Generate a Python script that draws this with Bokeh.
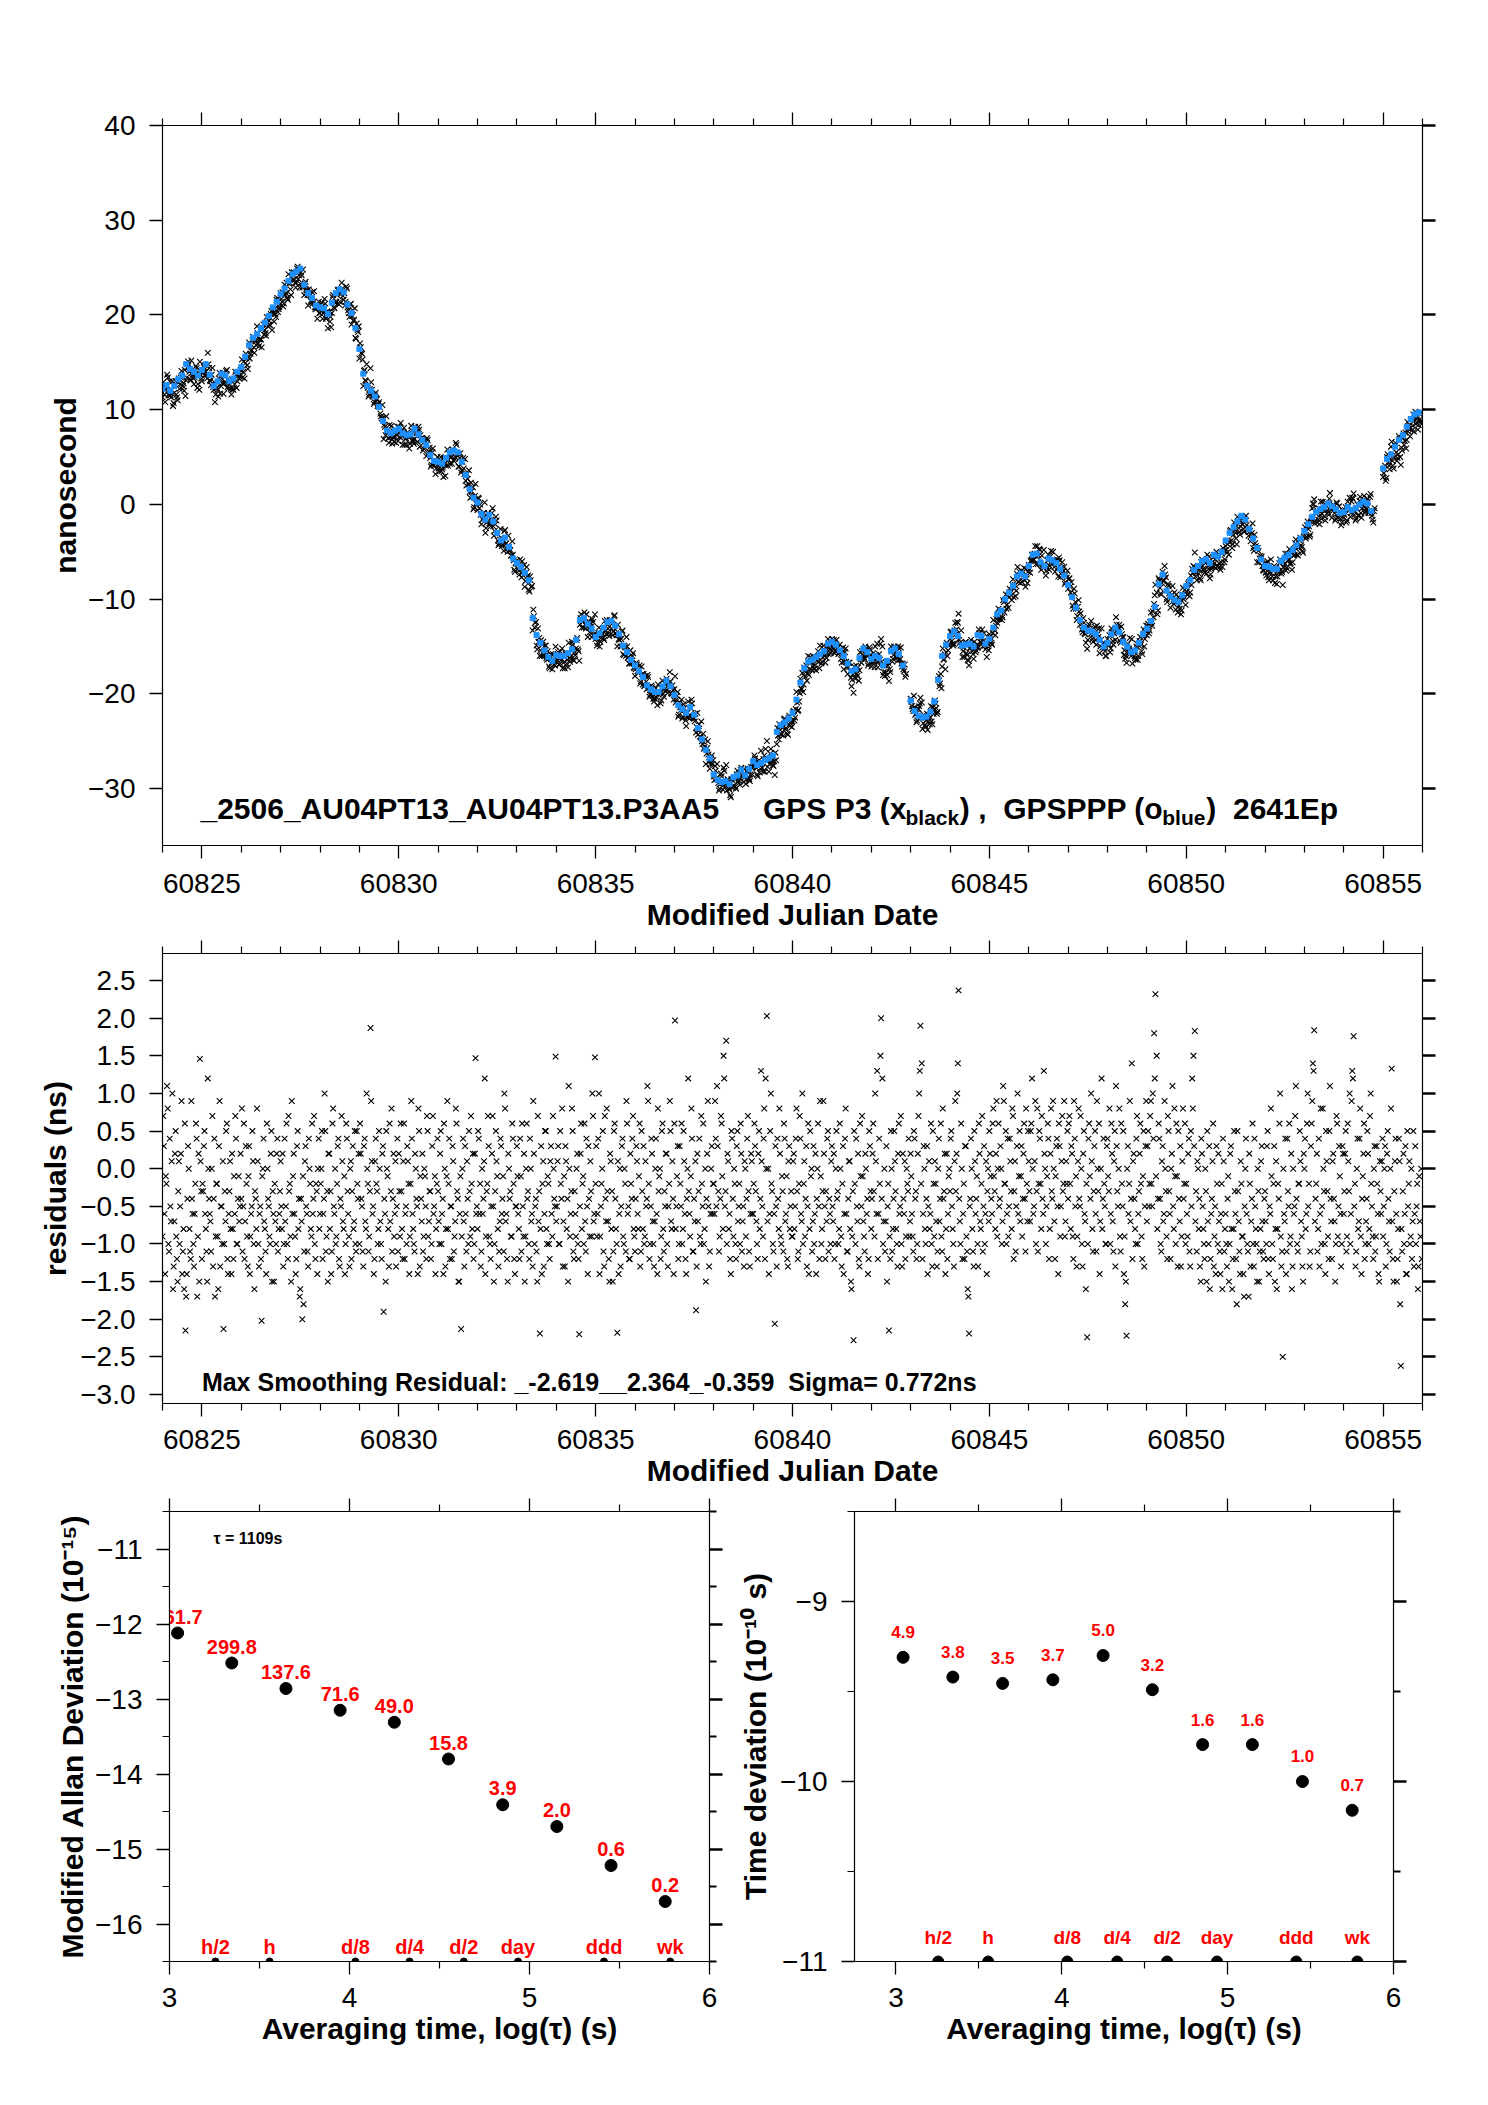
import math
from bokeh.plotting import figure
from bokeh.models import LinearAxis, FixedTicker, CustomJSTickFormatter, Range1d, Label, ColumnDataSource
from bokeh.layouts import column, row
from bokeh.embed import file_html
from bokeh.resources import INLINE
from bokeh.core.properties import value

FONT = "Liberation Sans"
nan = float("nan")

# ---------------- data ----------------
day_start = 60824
# GPSPPP (blue) clock offset, ns, 10 samples per day (0.0,0.1,...,0.9)
blue_ns_by_day = [
    [12.2, 12.6, 12.0, 12.5, 13.2, 13.6, 14.8, 14.3, 14.0, 13.6],
    [14.2, 14.8, 13.7, 12.5, 13.0, 13.8, 13.6, 13.0, 13.3, 14.0],
    [14.5, 15.6, 16.8, 17.6, 18.0, 18.6, 19.2, 19.9, 20.8, 21.4],
    [22.2, 22.8, 23.6, 24.3, 24.6, 24.9, 23.2, 22.3, 21.8, 21.0],
    [20.8, 20.7, 20.1, 21.3, 22.3, 22.7, 22.4, 21.1, 20.2, 18.6],
    [16.4, 13.8, 12.5, 12.0, 11.4, 10.3, 8.8, 7.8, 7.5, 7.8],
    [8.0, 7.5, 7.3, 7.4, 8.0, 7.4, 6.8, 6.3, 5.2, 4.6],
    [4.5, 4.3, 4.9, 5.5, 5.7, 5.5, 4.5, 3.1, 1.6, 0.7],
    [0.2, -1.0, -1.6, -1.1, -1.8, -3.0, -3.8, -3.5, -4.5, -5.7],
    [-6.2, -6.6, -7.2, -8.0, -12.0, -13.8, -14.6, -15.4, -16.1, -16.5],
    [-15.9, -16.0, -16.0, -15.7, -15.3, -14.3, -12.2, -12.0, -12.6, -13.1],
    [-14.0, -13.6, -13.0, -12.4, -12.3, -12.8, -13.7, -14.9, -15.6, -16.4],
    [-17.0, -17.6, -18.2, -19.1, -19.5, -19.8, -19.8, -19.2, -18.6, -19.2],
    [-20.1, -21.2, -21.6, -22.0, -21.4, -22.2, -23.6, -24.8, -25.9, -26.8],
    [-28.5, -29.1, -29.3, -29.2, -29.5, -28.8, -28.6, -28.0, -28.6, -27.9],
    [-27.1, -27.5, -27.3, -27.0, -26.8, -26.5, -24.0, -23.3, -23.0, -22.6],
    [-22.0, -20.6, -18.8, -17.3, -16.6, -16.4, -16.1, -15.8, -15.5, -14.7],
    [-14.5, -14.8, -15.4, -16.0, -16.8, -17.6, -17.4, -16.2, -15.2, -15.6],
    [-16.3, -16.0, -16.2, -17.0, -16.5, -15.5, -15.2, -15.8, -17.0, nan],
    [-20.7, -21.8, -22.3, -22.5, -22.4, -21.9, -20.8, -18.5, -16.0, -14.8],
    [-13.9, -13.4, -13.9, -14.9, -14.8, -14.7, -15.0, -13.8, -13.9, -14.7],
    [-14.2, -13.0, -11.6, -11.2, -10.0, -9.3, -8.6, -7.6, -7.3, -7.6],
    [-6.5, -5.3, -5.2, -6.1, -6.5, -5.7, -5.9, -6.2, -6.8, -7.5],
    [-8.5, -9.8, -10.9, -12.2, -13.0, -13.3, -13.4, -13.7, -14.3, -15.0],
    [-14.6, -13.7, -13.0, -13.5, -14.5, -15.0, -15.6, -15.4, -14.6, -13.7],
    [-13.1, -12.3, -10.8, -8.4, -7.4, -9.1, -9.7, -10.1, -10.3, -9.6],
    [-8.6, -8.0, -6.9, -6.5, -6.0, -5.8, -6.2, -5.3, -5.5, -5.0],
    [-3.8, -3.0, -2.4, -1.8, -1.2, -1.6, -2.6, -3.6, -4.6, -5.8],
    [-6.5, -6.6, -6.8, -6.8, -6.0, -5.6, -5.3, -4.8, -4.3, -3.6],
    [-2.8, -2.1, -1.3, -0.8, -0.5, -0.3, 0.1, -0.2, -0.5, -0.9],
    [-0.8, -0.3, -0.6, -0.4, 0.0, 0.3, 0.1, -0.7, nan, nan],
    [3.8, 4.8, 5.3, 6.1, 6.8, 7.3, 8.2, 9.0, 9.5, 9.7],
]

# smoothing residuals of GPS P3 (black), ns, two interleaved sets per day
residual_a_ns_by_day = [
    [.7, -.6, -.1, 1.1, -1.0, .4, -.7, 1.0, -1.3, .2, -.9, -1.5, .1, -.5, .9, -1.1, -1.6, -2.15, -1.4, .3, -.8, -1.2, -.4, -1.0, -.6, .6, -1.7, .2, 1.46, -.3],
    [-.2, .3, -.6, -1.1, 1.2, -.4, -.7, .0, -1.3, .4, -.9, -.2, -1.6, .9, -.5, -1.0, -2.13, -.3, .5, -1.2, -.6, .1, -1.4, -.8, -.1, .7, -1.0, -.4, -.7, .2],
    [.8, -.5, -1.2, .3, -.9, -.1, -1.4, -.6, .5, -1.0, -.3, -.8, .1, -1.3, -.5, -2.02, .0, -.7, -1.1, .6, -.4, -.9, .2, -1.5, -.6, -.2, -1.0, .4, -.8, -.3],
    [-.5, .2, -1.0, -.7, .6, -1.2, -.3, -.9, .9, -.1, -.6, -1.4, .3, -.8, -1.7, -.4, -2.0, -1.8, .1, -.5, -1.1, .4, -.2, -.9, -.6, .7, -1.2, -.3, .0, -.8],
    [-.2, .5, -.6, 1.0, -1.1, -.3, .2, -.8, -1.4, .6, -.5, .0, -.9, .3, -1.2, -.4, .7, -.7, -.1, -1.0, .4, -.6, -1.3, .1, -.3, -.8, .5, -1.1, -.2, .2],
    [.6, -.4, -1.1, .3, -.7, 1.0, -.2, -.9, 1.87, .1, -.5, -1.2, .4, -.3, -.8, .0, -1.0, .2, -1.9, -.6, .5, -.1, -1.3, -.7, .8, -.4, -.9, .1, -.5, -1.1],
    [-.3, .6, -.8, .1, -1.2, -.5, .3, -.2, -.9, .9, -.6, -1.0, .2, -.4, -1.4, .5, -.1, -.7, -1.1, .0, -.5, .7, -.9, -.3, -1.2, .3, -.6, -.1, -.8, .4],
    [-.7, .2, -1.0, -.4, .6, -1.3, -.1, -.8, .4, -.5, -1.2, .1, -.9, .8, -.3, -1.5, -.6, -2.13, .0, -.7, .3, -1.1, -.4, .5, -.9, -.2, .2, -1.0, 1.47, -.5],
    [.5, -.6, -1.3, .0, -.4, 1.2, -.9, -.2, .3, -1.0, -.5, .7, -1.5, -.3, .1, -.8, -1.1, .4, -.6, -.1, 1.0, -.7, -1.2, .2, -.4, -.9, .6, -.2, -1.4, -.5],
    [-.1, -.8, .4, -1.1, -.5, .2, -.9, .6, -.3, -1.2, .0, -.6, .9, -1.0, -.4, -1.5, -.7, -2.19, .3, -.2, -1.3, .5, -.8, -.1, -1.0, .1, -.6, .7, -.4, 1.49],
    [-.5, .3, -1.0, -.2, .8, -.7, -1.3, .1, -.4, 1.1, -.9, -.3, .5, -1.2, -.6, .0, -1.0, -2.2, .2, -.8, -.1, .6, -1.1, -.5, .3, -.9, -.3, 1.0, -.7, 1.48],
    [.3, -.6, 1.0, -.9, -.2, .5, -1.3, -.4, .8, -.7, -1.5, .1, -.3, -1.1, .6, -.8, -2.18, -1.4, .0, -.5, .4, -1.0, -.2, .9, -.6, -1.2, .2, -.4, .7, -.9],
    [-.4, .1, -.8, .6, -1.1, -.3, .3, -.9, -.5, 1.1, -.2, -1.0, .4, -.7, -1.3, .0, -.6, .8, -.1, -1.2, .5, -.8, -.3, .2, -1.0, -.5, .9, -.7, .1, -1.4],
    [1.97, -.5, .3, -1.0, -.2, .6, -.8, .1, -1.2, -.4, 1.2, -.6, -.1, .4, -1.1, -.7, -1.88, .2, -.3, -.9, .7, -.5, -1.0, .0, -.4, .9, -1.3, -.6, .3, -.2],
    [-.6, .4, 1.1, -.3, -.9, .7, -.1, 1.5, -.5, 1.7, .2, -.8, -1.2, .5, -.4, .0, -1.0, .3, -.7, -.2, .6, -1.1, -.5, .1, -.9, .4, -.3, -1.3, .2, -.6],
    [-.2, .3, -.7, -1.2, .5, -.4, .1, -.9, .8, 1.2, 2.03, .0, -.6, 1.0, -.3, -1.1, -2.06, -.5, .4, -.8, .2, -1.0, -.3, .6, -.7, -.1, -1.3, .3, -.5, -.9],
    [.1, -.8, .4, -.3, -1.1, .7, -.6, 1.0, -.2, -.9, .3, -.5, -1.4, .5, .0, -.7, -1.0, .2, -.4, .6, -1.2, -.1, -.8, .9, -.5, -.3, .4, -1.1, -.6, .1],
    [-.5, .2, -1.0, .5, -.3, -.8, .0, -1.3, .3, -.6, .8, -1.1, -.4, .1, -1.5, -.9, -2.28, -.2, .4, -.7, -1.2, .6, -.5, -.1, -.9, .2, -.6, -1.4, .5, -.3],
    [-.4, .6, -.9, .1, 1.3, -.6, -.2, 2.0, 1.2, -.7, -1.1, .3, -.5, -2.15, -1.2, .0, -.8, .5, -.3, -1.0, .2, -.6, .7, -1.3, -.4, .1, -.9, -.2, .4, -.7],
    [-.1, -.9, .5, -.4, -1.2, .2, 1.0, 1.9, 1.4, -.6, .0, -1.0, .3, -.5, -.8, .6, -1.3, -.2, .1, -.7, -1.1, .4, -.4, -.9, .8, -.3, -1.4, .2, -.6, .0],
    [.4, -.5, -1.0, .1, -.3, 1.0, 2.37, -.7, .6, -1.2, -.2, .3, -.9, -1.6, -2.19, -.4, .0, -1.1, .5, -.6, -.1, -1.3, .2, -.8, .7, -.5, -1.0, .1, -.3, -.7],
    [.2, -.4, .6, -.1, -.8, .9, .0, -.5, .3, -1.0, 1.1, -.2, .5, -.6, -.9, .4, -.3, .8, -1.2, .1, -.5, 1.0, -.1, -.7, .3, -.4, .6, -1.1, -.2, .5],
    [-.3, .5, 1.2, -.6, .1, -1.0, .8, -.2, .4, -.8, -.4, 1.3, .0, -.5, .6, -1.2, .2, -.3, .9, -.7, -.1, .4, -1.4, .3, -.5, .7, -.2, -.9, .1, .5],
    [.6, -.2, .3, -.9, .9, -.5, -1.3, .1, -.4, .7, -1.0, .2, -.6, -1.6, -2.24, .4, -.1, 1.0, -.8, -.3, .5, -1.1, .0, .6, -.7, 1.2, -.4, -.2, -1.0, .3],
    [-.1, .8, -.6, .2, -1.1, .5, 1.1, -.3, .0, -.9, .6, -.5, -1.4, -1.8, -2.22, .3, -.2, -.7, 1.4, .1, -.4, -1.0, .7, -.6, .2, -.2, -1.2, .5, -.5, .9],
    [.3, -.5, .7, -.2, 1.0, 1.8, 2.32, 1.5, -.4, .4, -1.0, .1, -.7, .9, -.3, -1.2, .5, -.6, .0, 1.1, -.8, -.1, .6, -1.3, -.4, .3, -.9, .8, -.2, -1.0],
    [-.6, .2, -1.1, .5, 1.2, 1.5, 1.83, -.3, .1, -.8, -1.3, .4, -.5, -1.0, .0, -1.5, -.7, .3, -1.2, -.4, .6, -.9, -1.4, -.2, .2, -1.1, -.6, -1.6, .1, -.8],
    [-1.0, -.4, -1.5, .2, -.8, -1.2, .5, -.6, -1.8, -.3, -1.1, .1, -.9, -1.4, -.5, .4, -1.0, -1.7, -.2, -.7, .6, -1.3, -.5, -1.0, .0, -1.5, -.8, .3, -1.1, -.4],
    [-.7, .3, -1.2, -.5, .8, -1.0, -.2, -1.5, .1, -.8, -.4, 1.0, -1.3, -2.5, -.6, .4, -1.1, -.3, .6, -.9, -1.6, .0, -.5, 1.1, -1.0, -.2, .5, -.7, -1.3, .2],
    [.4, -.6, 1.0, -.2, -1.1, .6, 1.4, 1.84, -.4, .2, -.8, -1.3, .8, -.5, .0, -1.0, .5, -.3, -1.2, 1.1, -.7, .1, -.4, -1.5, .7, -.9, .3, -.6, -1.0, .2],
    [-.3, .5, -.9, .1, 1.0, -.6, 1.3, 1.76, -.2, -1.1, .4, -.7, .8, -1.4, -.1, .6, -1.0, -.4, .2, -.8, 1.0, -.5, -1.2, .3, -.9, -.2, -1.4, .1, -.6, .4],
    [-.5, .3, -1.0, .5, -.7, .0, 1.33, -1.2, -.3, .4, -1.5, -.8, .1, -2.62, -1.1, .2, -.6, -1.4, .5, -.2, -1.0, .0, -.7, -1.3, .3, -.5, -1.6, -.1, -.9, -1.2],
]
residual_b_ns_by_day = [
    [-.9, .3, -1.4, -.2, .8, -1.1, -.5, .1, -1.6, -.7, .5, -1.2, -.3, -1.0, .2, -1.4, -.8, .6, -1.7, -.4, .0, -1.1, .9, -.6, -1.3, -.2, .4, -.9, -1.5, .1],
    [-1.2, -.3, .5, -.8, -1.5, .0, -.6, -1.1, .7, -.4, -1.7, -.2, -.9, .3, -1.3, -.5, .1, -1.0, -.7, .6, -1.4, -.3, -.8, .2, -1.2, -.6, .4, -1.0, -.1, -.5],
    [-.4, -1.1, .6, -.7, -.2, -1.3, .3, -.9, -.5, .1, -1.6, -.4, .8, -1.0, -.6, -1.2, -.1, .4, -.8, -1.4, .0, -.5, -1.0, .5, -.3, -1.5, -.7, .2, -1.1, -.6],
    [.1, -.8, -1.3, .4, -.5, -1.0, .7, -.2, -1.5, -.6, .2, -.9, -1.2, .5, -.4, -1.6, -.7, -.1, -1.1, .3, -.6, -1.3, .0, -.8, .6, -.4, -1.0, -.2, -1.4, .4],
    [-.6, .0, -1.2, -.4, .5, -.9, -1.5, .2, -.3, -1.1, .8, -.6, -1.0, -.2, .4, -1.3, -.5, .1, -.8, -1.4, .6, -.3, -.9, .0, -1.2, .3, -.7, -1.0, .5, -.4],
    [-1.0, .2, -.5, -1.3, .4, -.8, .0, -1.1, -.3, .9, -.6, -1.4, .1, -.2, -1.0, .5, -.7, -1.2, .3, -.4, -1.5, .0, -.8, .6, -.3, -1.1, .2, -.6, -1.3, .4],
    [.2, -.9, -.3, -1.2, .6, -.6, -1.0, .1, -1.4, -.2, .4, -.8, -1.1, .0, -.5, .8, -1.3, -.4, .2, -.9, -.1, -1.2, .5, -.7, -.3, -1.0, .7, -.5, -1.4, -.2],
    [-.3, -1.0, .5, -.6, -1.4, .0, -.8, .9, -.2, -1.2, -.5, .3, -1.1, -.7, .6, -.4, -1.5, -.1, -.9, .4, -1.3, -.6, .1, -1.0, -.3, .7, -.8, -1.2, .2, -.6],
    [-.8, .4, -.2, -1.1, -.6, .1, -1.4, -.3, .7, -.9, -1.2, .2, -.5, -1.0, .5, -.1, -1.3, -.7, .3, -.4, -1.1, .8, -.6, -1.5, .0, -.3, -.9, .4, -1.2, -.5],
    [.3, -.6, -1.2, -.1, .6, -.9, -1.5, .0, -.4, -1.0, .4, -.7, -1.3, .2, -.5, -1.1, .7, -.3, -.8, -1.4, .1, -.6, .5, -1.0, -.2, -1.2, .3, -.9, .0, -.5],
    [-.7, .1, -1.0, .5, -.4, -1.3, -.1, .3, -.8, -1.5, .0, -.6, .8, -1.1, -.3, -.9, .2, -1.2, -.5, .6, -.2, -1.0, -.7, .4, -1.4, -.4, .1, -.9, .7, -.6],
    [-.2, -.9, .4, -1.4, -.5, .0, -1.1, .7, -.7, -.3, -1.2, .2, -.8, -1.5, .5, -.4, -1.0, .1, -.6, -1.3, .3, -.9, .0, -1.1, .6, -.5, -1.2, -.2, .4, -.8],
    [-1.1, .3, -.6, -.1, -1.3, .5, -.8, -1.0, .1, -.4, .9, -1.2, -.5, .2, -1.0, -.7, .4, -1.4, -.3, .0, -.9, .6, -1.1, -.5, .2, -1.3, -.2, .5, -.8, -.4],
    [.6, -.8, -.1, -1.2, .3, -.5, -1.0, .5, -.6, -1.4, .0, -.3, -.9, .8, -1.1, -.4, .1, -1.3, -.7, .4, -1.0, -.2, .6, -.8, -1.5, .2, -.5, -1.1, .0, -.6],
    [-.2, .9, -.5, .3, -1.1, -.4, .6, -.8, 1.2, -.3, -1.0, .1, -.6, -1.4, .4, -.9, -.2, -1.2, .5, -.5, -1.0, .2, -.7, -1.3, .0, -.4, .7, -1.1, -.6, .1],
    [-.6, .6, -.3, -1.0, .2, -.8, 1.3, -.5, .4, -1.2, .0, -.7, -1.4, .5, -.2, -1.0, -.6, .3, -1.3, -.4, .8, -.9, -.1, -1.1, .4, -.6, -1.2, .1, -.8, -.3],
    [-.9, .2, -.5, .8, -1.2, -.2, .4, -.7, -1.0, .1, -.4, -1.3, .6, -.8, -.1, -1.1, .3, -.6, -1.4, .0, -.5, .9, -1.0, -.3, .2, -1.2, -.7, .5, -.4, -1.0],
    [.3, -.7, -1.2, .0, -.4, -1.0, .6, -.9, -.2, -1.4, .4, -.6, -1.1, .1, -.8, -1.6, -.3, .5, -1.0, -.5, .2, -1.3, -.1, .7, -.7, -1.1, .0, -.4, -1.2, .3],
    [-.8, .2, -.3, 1.0, -.6, -1.2, .4, 1.5, -.4, -1.0, .0, -.7, -1.5, -.2, -.9, .5, -1.1, -.4, .1, -.8, -1.3, .6, -.5, -1.0, .2, -.6, -1.2, .0, -.3, -.9],
    [.2, -.6, -1.1, .4, -.3, -1.0, .7, 1.3, -.2, -1.2, .3, -.8, -.4, -1.4, .1, -.6, -1.0, .5, -.9, -.2, -1.3, .0, -.7, .6, -1.1, -.4, .2, -.8, -1.2, -.1],
    [-.3, .5, -.8, -1.3, .9, .2, 1.4, -.4, -1.0, .0, -.6, -1.2, .3, -1.1, -1.7, -.5, .4, -.8, -1.3, .1, -.4, -1.0, .6, -.7, -.2, -1.1, .3, -.6, -1.4, .0],
    [.5, -.1, -.6, .8, -.3, .2, -.9, .6, -.4, .0, -.7, .9, -.2, -1.0, .4, -.5, .1, -.8, .7, -.3, -1.1, .3, -.6, .5, -.1, -.9, .2, -.4, .8, -.7],
    [.1, -.7, .6, .0, -.5, .9, -.3, -1.1, .5, -.2, .7, -.6, .2, -1.0, -.1, .4, -.8, .8, -.4, .0, -1.2, .3, -.5, .6, -.9, .1, -.3, .9, -.7, -.2],
    [-.4, .7, -.8, .2, -1.2, .4, -.1, -.9, .8, -.5, .0, -1.3, .5, -.7, -.2, -1.0, .6, -.4, .1, -1.1, .3, -.6, .9, -.3, -1.4, .0, -.8, .4, -.5, -1.0],
    [.4, -.3, -1.0, .6, -.7, .1, -1.3, .3, -.5, .8, -1.1, -.2, .5, -.9, -1.5, .0, -.6, .9, -.4, -1.2, .2, -.8, .4, -1.0, -.3, .6, -.9, -.1, -1.3, .3],
    [-.7, .5, -.2, .9, -.5, .4, 1.2, -.1, -.8, .6, -.4, -1.1, .3, -.6, .0, -.9, .7, -.3, -1.2, .2, -.5, .8, -1.0, -.1, .5, -.7, -1.3, .1, -.4, .6],
    [-.2, -.9, .4, -1.3, -.5, .8, .3, -.7, -1.1, .0, -.4, -1.5, .2, -.8, -1.2, -.3, .5, -1.0, -1.6, -.6, .1, -1.3, -.5, .3, -1.0, -.7, -1.4, -.2, .4, -1.1],
    [-.6, -1.3, -.1, -1.0, .3, -1.6, -.8, -.3, -1.2, .5, -.7, -1.4, -.2, -.9, -1.7, .0, -.6, -1.1, .2, -1.3, -.4, -1.0, .4, -.8, -1.5, -.3, -1.1, .1, -.7, -1.2],
    [-.3, -1.0, .5, -1.4, -.6, -.1, -1.2, .3, -.8, -1.6, -.2, .6, -.9, -1.1, .0, -.7, -1.4, .4, -.5, -1.0, .2, -1.3, -.6, .7, -.4, -1.1, -.2, .1, -.9, -1.5],
    [.0, -.8, .6, -.5, -1.3, .3, .9, 1.3, -.7, -.2, -1.1, .4, -.6, -1.0, .8, -.3, -1.4, .1, -.9, .5, -.4, -1.2, .2, -.7, -1.0, .6, -.5, -.1, -1.3, .3],
    [-.6, .2, -1.1, .6, -.3, -1.0, .9, 1.2, -.5, -1.3, .0, -.8, .4, -.9, -.4, .2, -1.2, -.7, .5, -1.0, .7, -.2, -.9, .0, -1.1, .3, -.6, -1.5, -.3, .1],
    [-.9, .0, -1.3, .2, -.4, -1.1, .8, -.7, -1.5, .1, -.6, -1.2, .4, -1.8, -.8, -.3, -1.0, .3, -1.4, -.5, .1, -.9, -1.2, .5, -.6, -1.0, -.2, -1.3, -.7, .0],
]

# Modified Allan deviation (log10) and time deviation (log10)
mdev_logtau = [3.045, 3.346, 3.647, 3.948, 4.249, 4.550, 4.851, 5.152, 5.453, 5.754]
mdev_log = [-12.12, -12.52, -12.86, -13.15, -13.31, -13.80, -14.41, -14.70, -15.22, -15.70]
mdev_labels = ["761.7", "299.8", "137.6", "71.6", "49.0", "15.8", "3.9", "2.0", "0.6", "0.2"]

tdev_logtau = [3.043, 3.343, 3.643, 3.946, 4.249, 4.546, 4.849, 5.149, 5.451, 5.751]
tdev_log = [-9.31, -9.42, -9.455, -9.435, -9.30, -9.49, -9.795, -9.795, -10.00, -10.16]
tdev_labels = ["4.9", "3.8", "3.5", "3.7", "5.0", "3.2", "1.6", "1.6", "1.0", "0.7"]

span_logtau = [3.255, 3.556, 4.033, 4.334, 4.635, 4.936, 5.414, 5.782]
span_labels = ["h/2", "h", "d/8", "d/4", "d/2", "day", "ddd", "wk"]

# ---------------- derived coordinates ----------------
blue_x, blue_y = [], []
res_x, res_y = [], []
blk_x, blk_y = [], []
for d, brow in enumerate(blue_ns_by_day):
    day = day_start + d
    nb = len(brow)
    for j, v in enumerate(brow):
        if not math.isnan(v):
            blue_x.append(day + j / nb)
            blue_y.append(v)
    for rows, shift in ((residual_a_ns_by_day, 0.5), (residual_b_ns_by_day, 0.0)):
        rrow = rows[d]
        nr = len(rrow)
        for k, r in enumerate(rrow):
            frac = (k + shift) / nr
            res_x.append(day + frac)
            res_y.append(r)
            bv = brow[min(int(frac * nb), nb - 1)]
            if not math.isnan(bv):
                blk_x.append(day + frac)
                blk_y.append(bv + r)


# ---------------- helpers ----------------
def fmt(digits):
    return CustomJSTickFormatter(code=(
        "const s = Math.abs(tick).toFixed(%d); return tick < 0 ? '\\u2212' + s : s;" % digits))


def style_axis(ax, ticks, minor, labels=True, digits=0, thick=False, title=None,
               label_standoff=10, title_standoff=0):
    ax.ticker = FixedTicker(ticks=ticks, minor_ticks=minor)
    ax.major_tick_in = 0
    ax.major_tick_out = 13
    ax.minor_tick_in = 0
    ax.minor_tick_out = 7
    ax.axis_line_color = "black"
    ax.axis_line_width = 1.2
    ax.major_tick_line_color = "black"
    ax.minor_tick_line_color = "black"
    ax.major_tick_line_width = 2.5 if thick else 1.3
    ax.minor_tick_line_width = 2.0 if thick else 1.2
    if labels:
        ax.formatter = fmt(digits)
        ax.major_label_text_font = FONT
        ax.major_label_text_font_size = "28px"
        ax.major_label_text_color = "black"
        ax.major_label_standoff = label_standoff
    else:
        ax.formatter = CustomJSTickFormatter(code="return '';")
        ax.major_label_text_font_size = "0px"
        ax.major_label_standoff = 0
    if title is not None:
        ax.axis_label = title
        ax.axis_label_text_font = FONT
        ax.axis_label_text_font_size = "30px"
        ax.axis_label_text_font_style = "bold"
        ax.axis_label_text_color = "black"
        ax.axis_label_standoff = title_standoff


def make_fig(w, h, xr, yr, left, right, top, bottom):
    p = figure(width=w, height=h, x_range=xr, y_range=yr, output_backend="svg",
               toolbar_location=None, min_border_left=left, min_border_right=right,
               min_border_top=top, min_border_bottom=bottom)
    p.outline_line_color = None
    p.xgrid.visible = False
    p.ygrid.visible = False
    p.background_fill_color = "white"
    p.border_fill_color = "white"
    return p


def add_frame_axes(p, xt, xm, yt, ym, xdig, ydig, xtitle, ytitle, ystand,
                   xlab_standoff=15, xstand=2):
    style_axis(p.xaxis[0], xt, xm, True, xdig, False, xtitle, xlab_standoff, xstand)
    style_axis(p.yaxis[0], yt, ym, True, ydig, False, ytitle, 14, ystand)
    top = LinearAxis()
    p.add_layout(top, "above")
    style_axis(top, xt, xm, labels=False)
    right = LinearAxis()
    p.add_layout(right, "right")
    style_axis(right, yt, ym, labels=False, thick=True)


mjd_major = list(range(60825, 60856, 5))
mjd_minor = [d for d in range(60824, 60857) if d not in mjd_major]

# ---------------- top: clock offsets ----------------
p_top = make_fig(1480, 937, Range1d(60824, 60856), Range1d(-36, 40), 162, 58, 125, 92)
add_frame_axes(p_top, mjd_major, mjd_minor, list(range(-30, 41, 10)), [], 0, 0,
               "Modified Julian Date", "nanosecond", 3)
p_top.scatter(blk_x, blk_y, marker="x", size=8, line_color="black", line_width=1.1)
p_top.scatter(blue_x, blue_y, marker="square", size=5, fill_color="#1E90FF",
              line_color="#1E90FF")

leg_y, leg_sub_y = -32.1, -33.05
for x, txt, size, y in [
    (60824.965, "_2506_AU04PT13_AU04PT13.P3AA5", "30px", leg_y),
    (60839.25, "GPS P3 (x", "30px", leg_y),
    (60842.87, "black", "21px", leg_sub_y),
    (60844.25, ")\u00a0,\u00a0\u00a0GPSPPP (o", "30px", leg_y),
    (60849.39, "blue", "21px", leg_sub_y),
    (60850.51, ")\u00a0\u00a02641Ep", "30px", leg_y),
]:
    p_top.add_layout(Label(x=x, y=y, text=txt, text_font=FONT, text_font_size=size,
                           text_font_style="bold", text_color="black",
                           text_align="left", text_baseline="alphabetic"))

# ---------------- middle: residuals ----------------
p_mid = make_fig(1480, 558, Range1d(60824, 60856), Range1d(-3.12, 2.86), 162, 58, 16, 92)
res_major = [-3.0, -2.5, -2.0, -1.5, -1.0, -0.5, 0.0, 0.5, 1.0, 1.5, 2.0, 2.5]
add_frame_axes(p_mid, mjd_major, mjd_minor, res_major, [], 0, 1,
               "Modified Julian Date", "residuals (ns)", 5, xlab_standoff=13)
p_mid.scatter(res_x, res_y, marker="x", size=8, line_color="black", line_width=1.1)
p_mid.add_layout(Label(x=60825.0, y=-2.837,
                       text="Max Smoothing Residual: _-2.619__2.364_-0.359\u00a0\u00a0Sigma= 0.772ns",
                       text_font=FONT, text_font_size="25px", text_font_style="bold",
                       text_color="black", text_align="left", text_baseline="alphabetic"))

# ---------------- bottom left: MDEV ----------------
p_bl = make_fig(735, 600, Range1d(3, 6), Range1d(-16.5, -10.5), 169, 26, 16, 134)
add_frame_axes(p_bl, [3, 4, 5, 6], [3.5, 4.5, 5.5], [-16, -15, -14, -13, -12, -11],
               [-16.5, -15.5, -14.5, -13.5, -12.5, -11.5, -10.5], 0, 0,
               "Averaging time, log(\u03c4) (s)", "Modified Allan Deviation (10\u207b\u00b9\u2075)", 3,
               xlab_standoff=13, xstand=2)
bl_src = ColumnDataSource(dict(x=mdev_logtau, y=mdev_log, t=mdev_labels,
                               ty=[v + 0.22 for v in mdev_log]))
p_bl.scatter("x", "y", source=bl_src, size=12, color="black")
p_bl.text("x", "ty", text="t", source=bl_src, text_align="center", text_baseline="alphabetic",
          text_font=value(FONT), text_font_style="bold", text_font_size="20px", text_color="red")
bl_bottom = -16.5
p_bl.scatter(span_logtau, [bl_bottom] * len(span_logtau), size=7, color="black")
p_bl.text(span_logtau, [bl_bottom + 0.19] * len(span_logtau), text=span_labels,
          text_align="center", text_baseline="alphabetic", text_font=value(FONT),
          text_font_style="bold", text_font_size="20px", text_color="red")
p_bl.add_layout(Label(x=3.244, y=-10.86, text="\u03c4 = 1109s", text_font=FONT,
                      text_font_size="16px", text_font_style="bold", text_color="black",
                      text_align="left", text_baseline="alphabetic"))

# ---------------- bottom right: TDEV ----------------
p_br = make_fig(745, 600, Range1d(2.75, 6), Range1d(-11, -8.5), 119, 87, 16, 134)
add_frame_axes(p_br, [3, 4, 5, 6], [3.5, 4.5, 5.5], [-11, -10, -9], [-10.5, -9.5, -8.5], 0, 0,
               "Averaging time, log(\u03c4) (s)", "Time deviation (10\u207b\u00b9\u2070 s)", 5,
               xlab_standoff=13, xstand=2)
br_src = ColumnDataSource(dict(x=tdev_logtau, y=tdev_log, t=tdev_labels,
                               ty=[v + 0.139 for v in tdev_log]))
p_br.scatter("x", "y", source=br_src, size=12, color="black")
p_br.text("x", "ty", text="t", source=br_src, text_align="center", text_baseline="alphabetic",
          text_font=value(FONT), text_font_style="bold", text_font_size="17px", text_color="red")
br_bottom = -11.0
p_br.scatter(span_logtau, [br_bottom] * len(span_logtau), size=11, color="black")
p_br.text(span_logtau, [br_bottom + 0.136] * len(span_logtau), text=span_labels,
          text_align="center", text_baseline="alphabetic", text_font=value(FONT),
          text_font_style="bold", text_font_size="19px", text_color="red")

layout = column(p_top, p_mid, row(p_bl, p_br))
open("out.html", "w").write(file_html(layout, INLINE))
